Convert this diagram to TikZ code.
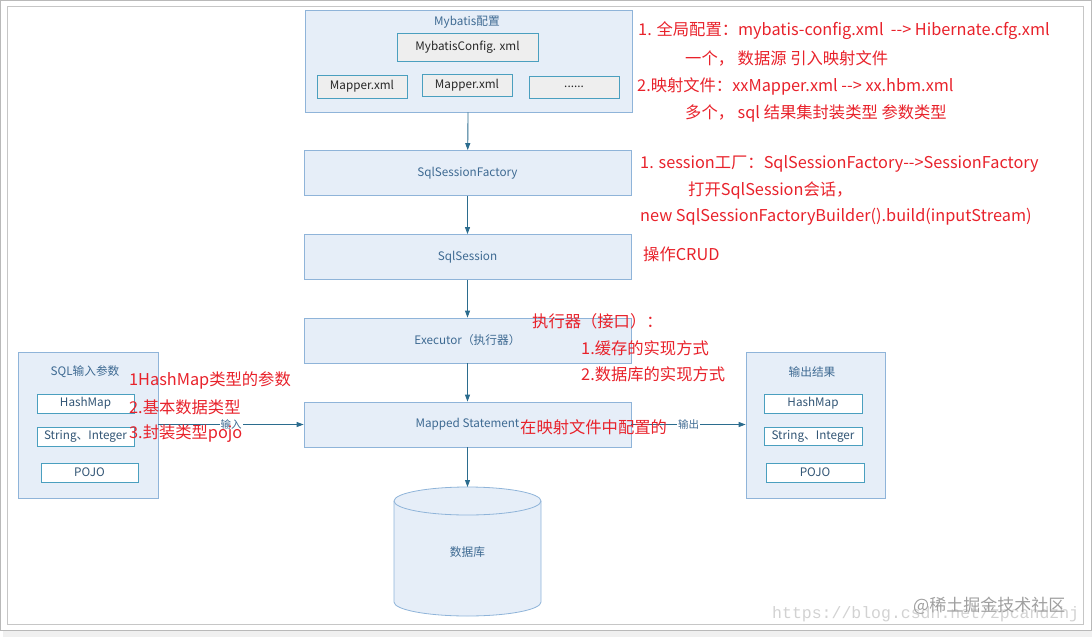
\documentclass[tikz,border=0pt]{standalone}
\usepackage{fontspec}
\setmainfont{Noto Sans CJK SC}
\newfontfamily\wmfont{Liberation Mono}
\usetikzlibrary{arrows.meta}
\definecolor{boxfill}{HTML}{E6EEF8}
\definecolor{boxline}{HTML}{8FB4D9}
\definecolor{boxtext}{HTML}{3E6A92}
\definecolor{itemline}{HTML}{4A9FBF}
\definecolor{itemfill}{HTML}{EEEEEE}
\definecolor{arrowc}{HTML}{2B6C8E}
\definecolor{notered}{HTML}{E8222B}
\begin{document}
\begin{tikzpicture}[x=1pt, y=-1pt,
    stage/.style={draw=boxline, line width=0.8pt, fill=boxfill, minimum width=327pt, minimum height=45pt, text=boxtext, font=\fontsize{11.7}{14}\selectfont},
    group/.style={draw=boxline, line width=0.8pt, fill=boxfill},
    xmlbox/.style={draw=itemline, line width=0.8pt, fill=itemfill, minimum width=90pt, minimum height=22pt, text=black!85, font=\fontsize{11.7}{14}\selectfont},
    item/.style={draw=itemline, line width=0.8pt, fill=white, minimum width=97pt, minimum height=19pt, inner sep=0pt, text=boxtext!80!black, font=\fontsize{11.7}{14}\selectfont},
    title/.style={text=boxtext, font=\fontsize{11.7}{14}\selectfont},
    flow/.style={-{Triangle[length=7pt,width=5pt]}, draw=arrowc, line width=0.9pt},
    note/.style={anchor=west, inner sep=0pt, text=notered, font=\fontsize{16.3}{19}\selectfont}]
    \useasboundingbox (0,0) rectangle (1092,637);
    \fill[gray!12] (3,631) rectangle (1092,637);
    \draw[gray!55, line width=1pt] (0.8,0.8) rectangle (1091.2,630.5);
    \draw[gray!45, line width=1pt] (7,6) rectangle (1083,624);

    \node[group, minimum width=327pt, minimum height=102pt] (cfg) at (468.5,61) {};
    \node[title] (cfgtitle) at (467,22) {Mybatis配置};
    \node[xmlbox, minimum width=141pt, minimum height=28pt] (mainxml) at (467.5,47) {MybatisConfig. xml};
    \node[xmlbox, minimum height=23pt] (mapA) at (362,86.5) {Mapper.xml};
    \node[xmlbox] (mapB) at (467,85) {Mapper.xml};
    \node[xmlbox] (more) at (574,87) {......};

    \node[stage] (factory) at (467.5,173) {SqlSessionFactory};
    \node[stage] (session) at (467.5,257) {SqlSession};
    \node[stage] (executor) at (467.5,340.5) {Executor（执行器）};
    \node[stage] (mapped) at (467.5,424.5) {Mapped Statement};

    \filldraw[draw=boxline, fill=boxfill, line width=0.8pt] (394,501) -- (394,602) arc (180:360:73.5pt and 14pt) -- (541,501) arc (0:180:73.5pt and 14pt) -- cycle;
    \draw[boxline, line width=0.8pt] (394,501) arc (180:360:73.5pt and 14pt);
    \coordinate (dbtop) at (467.5,487);
    \node[title] (db) at (467.5,552) {数据库};

    \node[group, minimum width=140pt, minimum height=146pt] (in) at (88,425) {};
    \node[title] (intitle) at (85,372) {SQL输入参数};
    \node[item] (inhash) at (85.5,403.5) {HashMap};
    \node[item] (instr) at (85.5,436.5) {String、Integer};
    \node[item] (inpojo) at (89.5,472.5) {POJO};

    \node[group, minimum width=139pt, minimum height=146pt] (out) at (815.5,425) {};
    \node[title] (outtitle) at (812,372) {输出结果};
    \node[item, minimum width=98pt] (outhash) at (813,403.5) {HashMap};
    \node[item, minimum width=98pt, minimum height=18pt] (outstr) at (813,436) {String、Integer};
    \node[item, minimum width=98pt] (outpojo) at (815,472.5) {POJO};

    \draw[flow] (cfg) -- (factory);
    \draw[flow] (factory) -- (session);
    \draw[flow] (session) -- (executor);
    \draw[flow] (executor) -- (mapped);
    \draw[flow] (mapped) -- (dbtop);
    \draw[flow] (in.east |- mapped) -- node[fill=white, inner sep=1pt, text=boxtext, font=\fontsize{10.5}{12}\selectfont] (inlabel) {输入} (mapped.west);
    \draw[flow] (mapped.east) -- node[fill=white, inner sep=1pt, text=boxtext, font=\fontsize{10.5}{12}\selectfont] (outlabel) {输出} (out.west |- mapped);

    \node[note] (n1) at (638,31) {1. 全局配置：mybatis-config.xml\ \ {-}{-}> Hibernate.cfg.xml};
    \node[note] (n2) at (685,58) {一个， 数据源 引入映射文件};
    \node[note] (n3) at (637,86) {2.映射文件：xxMapper.xml {-}{-}> xx.hbm.xml};
    \node[note] (n4) at (685,113) {多个， sql 结果集封装类型 参数类型};
    \node[note] (n5) at (640,164) {1. session工厂：SqlSessionFactory{-}{-}>SessionFactory};
    \node[note] (n6) at (688,191) {打开SqlSession会话，};
    \node[note] (n7) at (640,217) {new SqlSessionFactoryBuilder().build(inputStream)};
    \node[note] (n8) at (643,254) {操作CRUD};
    \node[note] (n9) at (532,321) {执行器（接口）：};
    \node[note] (n10) at (581,348) {1.缓存的实现方式};
    \node[note] (n11) at (581,374) {2.数据库的实现方式};
    \node[note] (n12) at (520,427) {在映射文件中配置的};
    \node[note] (n13) at (129,380) {1HashMap类型的参数};
    \node[note] (n14) at (129,407) {2.基本数据类型};
    \node[note] (n15) at (129,434) {3.封装类型pojo};

    \node[anchor=west, inner sep=0pt, text=gray!35, font=\wmfont\fontsize{16.5}{18}\selectfont] (wmurl) at (772,614) {https://blog.csdn.net/zpcandzhj};
    \node[anchor=west, inner sep=0pt, text=gray!75, font=\fontsize{17}{19}\selectfont] (wmsite) at (913,606) {@稀土掘金技术社区};
\end{tikzpicture}
\end{document}
